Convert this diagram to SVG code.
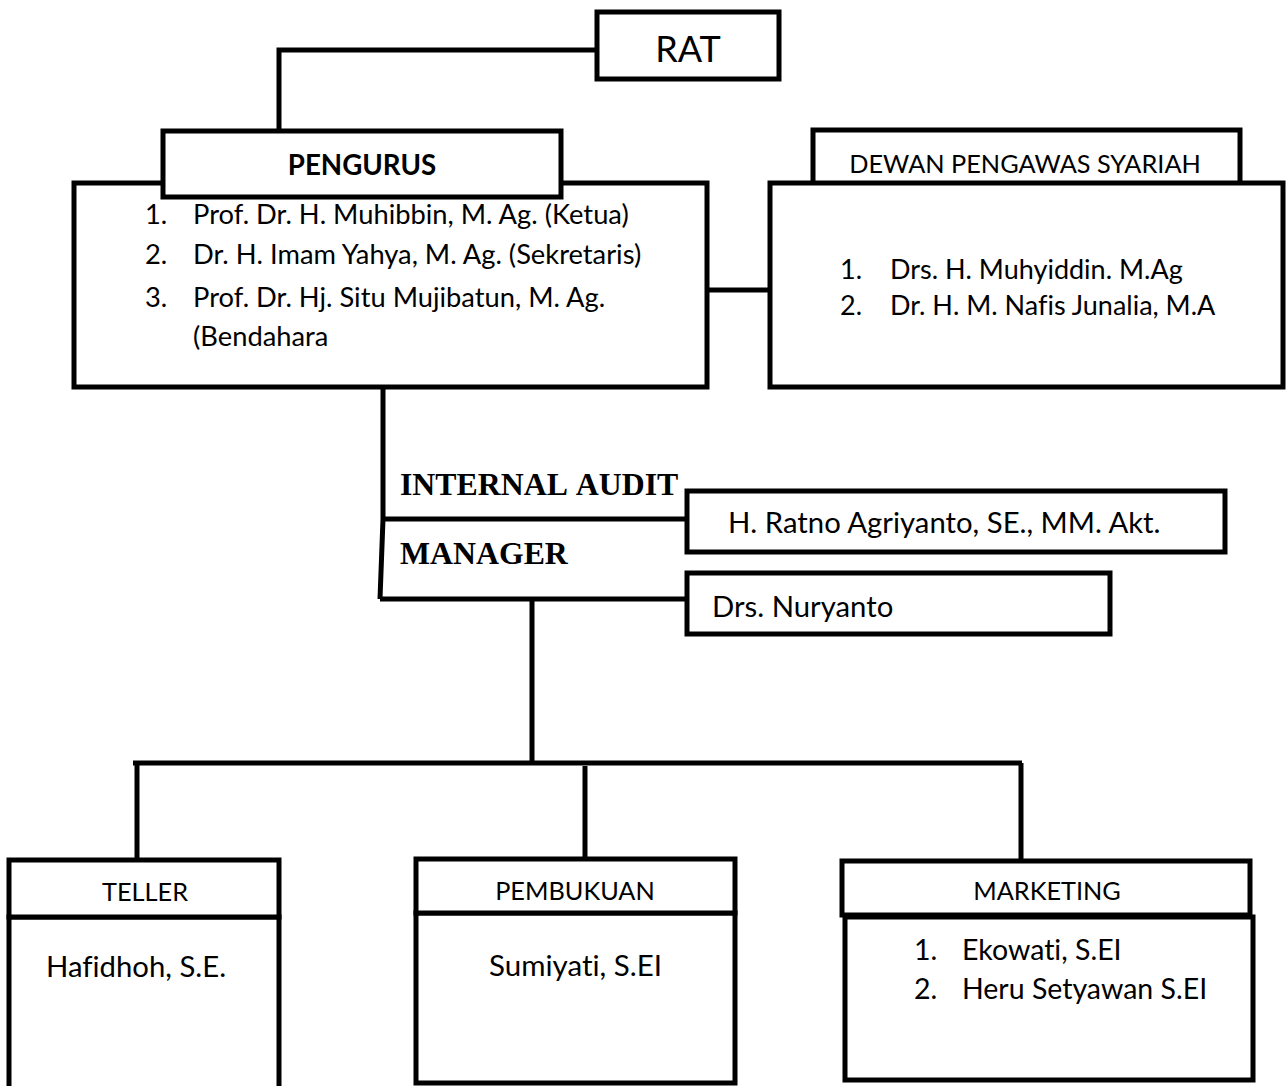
<svg xmlns="http://www.w3.org/2000/svg" width="1286" height="1086" viewBox="0 0 1286 1086">
<style>
.box{fill:#fff;stroke:#000;stroke-width:5;stroke-linejoin:miter}
.ln{fill:none;stroke:#000;stroke-width:5}
.t{font-family:Lato,"Liberation Sans",sans-serif;font-size:27px;fill:#000;font-variant-ligatures:none}
.h{font-size:25.3px}
.m{font-size:29.3px}
.b{font-weight:bold}
.s{font-family:"Liberation Serif","Times New Roman",serif;font-weight:bold;font-size:31.8px;fill:#000;font-kerning:none}
.c{text-anchor:middle}
</style>
<rect width="1286" height="1086" fill="#fff"/>
<g id="connectors">
<polyline class="ln" points="597,50 279,50 279,132"/>
<line class="ln" x1="707" y1="290" x2="770" y2="290"/>
<polyline class="ln" points="383,387 383,519 380,599"/>
<line class="ln" x1="383" y1="519" x2="688" y2="519"/>
<line class="ln" x1="380" y1="599" x2="688" y2="599"/>
<line class="ln" x1="532" y1="599" x2="532" y2="763"/>
<line class="ln" x1="133" y1="763" x2="1022" y2="763"/>
<line class="ln" x1="137" y1="763" x2="137" y2="860"/>
<line class="ln" x1="585" y1="766" x2="585" y2="859"/>
<line class="ln" x1="1021" y1="763" x2="1021" y2="861"/>
</g>
<g id="rat">
<rect class="box" x="597" y="12" width="182" height="67"/>
<text class="t c" x="688" y="62" style="font-size:36px">RAT</text>
</g>
<g id="pengurus">
<rect class="box" x="74" y="183" width="633" height="204"/>
<rect class="box" x="163" y="131" width="398" height="66"/>
<text class="t b c" x="362" y="175" style="font-size:27.7px">PENGURUS</text>
<text class="t" x="145" y="224" style="font-size:27.3px">1.</text>
<text class="t" x="193" y="224" style="font-size:27.3px">Prof. Dr. H. Muhibbin, M. Ag. (Ketua)</text>
<text class="t" x="145" y="264" style="font-size:27.3px">2.</text>
<text class="t" x="193" y="264" style="font-size:27.3px">Dr. H. Imam Yahya, M. Ag. (Sekretaris)</text>
<text class="t" x="145" y="307" style="font-size:27.3px">3.</text>
<text class="t" x="193" y="307" style="font-size:27.3px">Prof. Dr. Hj. Situ Mujibatun, M. Ag.</text>
<text class="t" x="193" y="346" style="font-size:27.3px">(Bendahara</text>
</g>
<g id="dewan">
<rect class="box" x="813" y="130" width="427" height="60"/>
<text class="t h c" x="1025" y="173">DEWAN PENGAWAS SYARIAH</text>
<rect class="box" x="770" y="183" width="513" height="204"/>
<text class="t" x="840" y="279">1.</text>
<text class="t" x="890" y="279">Drs. H. Muhyiddin. M.Ag</text>
<text class="t" x="840" y="315">2.</text>
<text class="t" x="890" y="315">Dr. H. M. Nafis Junalia, M.A</text>
</g>
<g id="internal-audit">
<text class="s" x="400" y="495">INTERNAL AUDIT</text>
<rect class="box" x="687" y="491" width="538" height="61"/>
<text class="t m" x="728" y="533">H. Ratno Agriyanto, SE., MM. Akt.</text>
</g>
<g id="manager">
<text class="s" x="400" y="564">MANAGER</text>
<rect class="box" x="687" y="573" width="423" height="61"/>
<text class="t m" x="712" y="617">Drs. Nuryanto</text>
</g>
<g id="teller">
<rect class="box" x="9" y="917" width="270" height="180"/>
<rect class="box" x="9" y="860" width="270" height="57"/>
<text class="t h c" x="145" y="901">TELLER</text>
<text class="t" x="46" y="977" style="font-size:29.3px">Hafidhoh, S.E.</text>
</g>
<g id="pembukuan">
<rect class="box" x="416" y="913" width="319" height="170"/>
<rect class="box" x="416" y="859" width="319" height="54"/>
<text class="t h c" x="575" y="900">PEMBUKUAN</text>
<text class="t" x="489" y="976" style="font-size:29.5px">Sumiyati, S.EI</text>
</g>
<g id="marketing">
<rect class="box" x="845" y="917" width="408" height="163"/>
<rect class="box" x="842" y="861" width="408" height="54"/>
<text class="t h c" x="1047" y="900">MARKETING</text>
<text class="t" x="914" y="960" style="font-size:28.5px">1.</text>
<text class="t" x="962" y="960" style="font-size:28.5px">Ekowati, S.EI</text>
<text class="t" x="914" y="999" style="font-size:28.5px">2.</text>
<text class="t" x="962" y="999" style="font-size:28.5px">Heru Setyawan S.EI</text>
</g>
</svg>
